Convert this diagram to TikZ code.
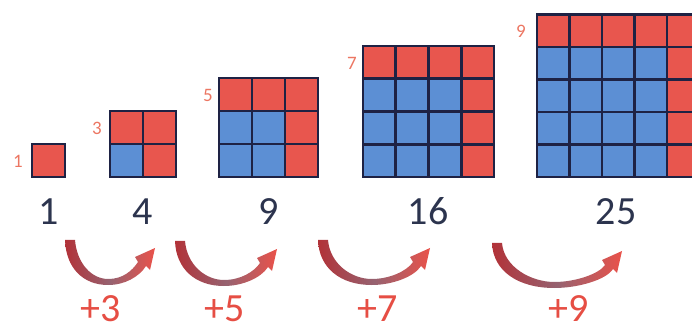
\documentclass[tikz,border=0pt]{standalone}
\usepackage{fontspec}
\setmainfont{Carlito}

\definecolor{sqred}{RGB}{232,86,78}
\definecolor{sqblue}{RGB}{92,143,212}
\definecolor{gridline}{RGB}{30,34,68}
\definecolor{numink}{RGB}{44,52,78}
\definecolor{plusred}{RGB}{230,78,68}
\definecolor{oddred}{RGB}{236,118,98}
\definecolor{bowdark}{RGB}{178,50,56}
\definecolor{bowmid}{RGB}{150,98,112}
\definecolor{bowlight}{RGB}{234,82,74}

\tikzset{
  cell/.style={draw=gridline, line width=2.6pt},
  count/.style={anchor=base, inner sep=0pt, text=numink, font=\fontsize{40}{44}\selectfont},
  oddlab/.style={anchor=east, inner sep=0pt, text=oddred, font=\fontsize{19}{22}\selectfont},
  gain/.style={anchor=base, inner sep=0pt, text=plusred, font=\fontsize{40}{44}\selectfont},
  bow/.style={left color=bowdark, right color=bowlight, middle color=bowmid}
}

\begin{document}
\begin{tikzpicture}[x=1pt, y=-1pt]
  \useasboundingbox (0,0) rectangle (692,328);
  \clip (0,0) rectangle (692,328);

  % square grids, bottom edge at 177
  \foreach \sq/\gx/\c in {1/32/33, 2/110/33, 3/219/33, 4/363/32.75, 5/537/32.5}{
    \foreach \i in {1,...,\sq}{
      \foreach \j in {1,...,\sq}{
        \ifnum\j=1 \def\cellcol{sqred}\else
          \ifnum\i=\sq \def\cellcol{sqred}\else\def\cellcol{sqblue}\fi
        \fi
        \filldraw[cell, fill=\cellcol] ({\gx+(\i-1)*\c},{177-\sq*\c+(\j-1)*\c}) rectangle ++(\c,\c);
      }
    }
  }

  % odd numbers beside the top rows
  \node[oddlab] (odd1) at (23,161) {1};
  \node[oddlab] (odd3) at (102,128) {3};
  \node[oddlab] (odd5) at (213,95) {5};
  \node[oddlab] (odd7) at (357,63) {7};
  \node[oddlab] (odd9) at (526,31) {9};

  % square numbers
  \node[count] (sq1) at (48.5,225) {1};
  \node[count] (sq4) at (143,225) {4};
  \node[count] (sq9) at (268.5,225) {9};
  \node[count] (sq16) at (428,225) {16};
  \node[count] (sq25) at (616,225) {25};

  % curved arrows
  \foreach \L/\T/\Y in {65/155/240, 175/277/241, 318/430/240, 492/622/243}{
    \pgfmathsetmacro{\W}{\T-\L}
    \shade[bow, shift={(0,\Y)}] (\L,0) -- ({\L+10},0)
      .. controls ({\L+12},24) and ({\L+0.3*\W},39) .. ({\L+0.48*\W},39)
      .. controls ({\L+0.64*\W},39) and ({\T-23},31) .. ({\T-17},22)
      -- ({\T-20},17) -- (\T,8) -- ({\T-5},30) -- ({\T-9},26)
      .. controls ({\T-16},37) and ({\L+0.66*\W},45) .. ({\L+0.48*\W},45)
      .. controls ({\L+0.2*\W},45) and ({\L+1},28) .. (\L,0) -- cycle;
  }

  % differences
  \node[gain] (d3) at (101,321) {+3};
  \node[gain] (d5) at (225,321) {+5};
  \node[gain] (d7) at (378,321) {+7};
  \node[gain] (d9) at (569,321) {+9};
\end{tikzpicture}
\end{document}
